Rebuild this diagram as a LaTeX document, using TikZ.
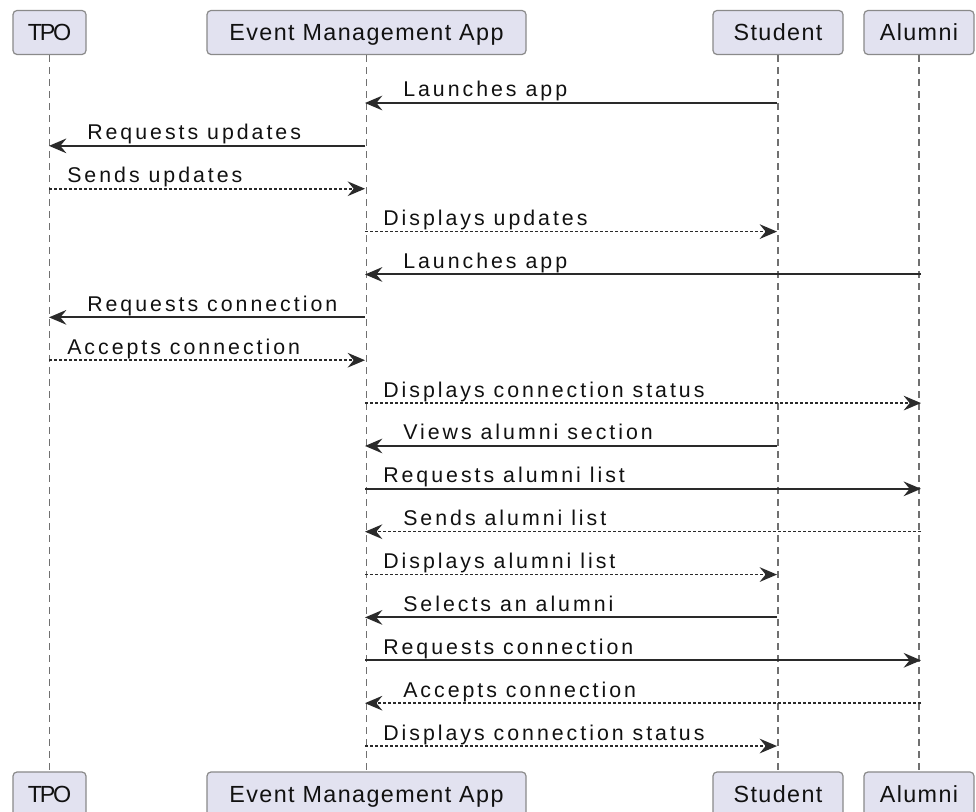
\documentclass[tikz,border=0pt]{standalone}
\usepackage{fontspec}
\setmainfont{Liberation Sans}
\newfontfamily\msgfont[LetterSpace=14]{Liberation Sans}
\newfontfamily\hdrfont[LetterSpace=6]{Liberation Sans}
\newfontfamily\tpofont[LetterSpace=-10]{Liberation Sans}
\usetikzlibrary{arrows.meta}
\definecolor{boxfill}{HTML}{E2E2F0}
\definecolor{boxline}{HTML}{8A8A8A}
\definecolor{lineclr}{HTML}{2A2A2A}
\definecolor{lifeclr}{HTML}{707070}
\definecolor{txtclr}{HTML}{111111}
\begin{document}
\begin{tikzpicture}[x=0.75pt,y=-0.75pt,
  actor/.style={draw=boxline, fill=boxfill, rounded corners=3pt, line width=0.9pt,
    minimum height=33pt, inner sep=0pt, text=txtclr, text height=12.5pt, text depth=0pt,
    font=\hdrfont\fontsize{17.5}{20}\selectfont},
  tpoactor/.style={actor, font=\tpofont\fontsize{17.5}{20}\selectfont},
  life/.style={draw=lifeclr, line width=0.9pt, dash pattern=on 5.25pt off 3.75pt},
  tipstyle/.style={-{Stealth[length=13pt,width=11pt,inset=4.5pt]}},
  syncmsg/.style={draw=lineclr, line width=1.5pt, tipstyle},
  replymsg/.style={draw=lineclr, line width=1.2pt, dash pattern=on 2.25pt off 1.5pt, tipstyle},
  lbl/.style={anchor=base west, inner sep=0pt, text=txtclr,
    font=\msgfont\fontsize{16}{19}\selectfont}]
\fill[white] (0,0) rectangle (976,812);
\useasboundingbox (0,0) rectangle (976,812);
% top actors
\node[tpoactor, minimum width=54.75pt] (tpoT) at (49.5,32.5) {TPO};
\node[actor, minimum width=239.25pt] (emaT) at (366.5,32.5) {Event Management App};
\node[actor, minimum width=97.5pt] (stuT) at (778,32.5) {Student};
\node[actor, minimum width=82.5pt] (aluT) at (919,32.5) {Alumni};
% bottom actors
\node[tpoactor, minimum width=54.75pt] (tpoB) at (49.5,794) {TPO};
\node[actor, minimum width=239.25pt] (emaB) at (366.5,794) {Event Management App};
\node[actor, minimum width=97.5pt] (stuB) at (778,794) {Student};
\node[actor, minimum width=82.5pt] (aluB) at (919,794) {Alumni};
% lifelines
\draw[life] (tpoT.south) -- (tpoB.north);
\draw[life] (emaT.south) -- (emaB.north);
\draw[life] (stuT.south) -- (stuB.north);
\draw[life] (aluT.south) -- (aluB.north);
% messages
\foreach \i/\fx/\tx/\st/\lab in {
  1/777/365/syncmsg/Launches app,
  2/365/49/syncmsg/Requests updates,
  3/49/365/replymsg/Sends updates,
  4/365/777/replymsg/Displays updates,
  5/921/365/syncmsg/Launches app,
  6/365/49/syncmsg/Requests connection,
  7/49/365/replymsg/Accepts connection,
  8/365/921/replymsg/Displays connection status,
  9/777/365/syncmsg/Views alumni section,
  10/365/921/syncmsg/Requests alumni list,
  11/921/365/replymsg/Sends alumni list,
  12/365/777/replymsg/Displays alumni list,
  13/777/365/syncmsg/Selects an alumni,
  14/365/921/syncmsg/Requests connection,
  15/921/365/replymsg/Accepts connection,
  16/365/777/replymsg/Displays connection status}{
  \pgfmathsetmacro\yy{103+42.87*(\i-1)}
  \pgfmathsetmacro\lx{\fx<\tx ? \fx+18 : \tx+38}
  \pgfmathsetmacro\ly{\yy-6}
  \coordinate (f\i) at (\fx,\yy);
  \coordinate (t\i) at (\tx,\yy);
  \draw[\st] (f\i) -- (t\i);
  \node[lbl] (l\i) at (\lx,\ly) {\lab};
}
\end{tikzpicture}
\end{document}
